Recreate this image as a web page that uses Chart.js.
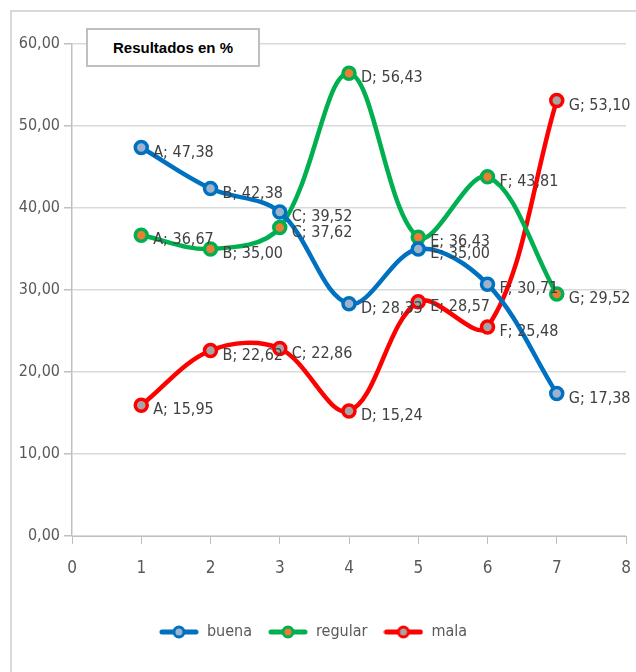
<!DOCTYPE html>
<html>
<head>
<meta charset="utf-8">
<script src="https://cdn.jsdelivr.net/npm/chart.js@4/dist/chart.umd.min.js"></script>
<style>
  body { margin: 0; background: #fff; }
  #wrap { position: relative; width: 636px; height: 672px; }
  #frame { position: absolute; left: 10px; top: 10px; right: 0; bottom: 0;
           border-left: 2px solid #d9d9d9; border-top: 2px solid #d9d9d9; }
  #titleBox { position: absolute; left: 86px; top: 28px; width: 170px; height: 35px;
              border: 2px solid #bfbfbf; background: #fff;
              font: bold 15px "Liberation Sans", Arial, sans-serif; color: #000;
              line-height: 35px; text-align: center; }
  canvas { position: absolute; left: 0; top: 0; }
</style>
</head>
<body>
<div id="wrap">
  <div id="frame"></div>
  <canvas id="chart" width="636" height="672"></canvas>
  <div id="titleBox">Resultados en %</div>
</div>
<script>
const categories = ['A', 'B', 'C', 'D', 'E', 'F', 'G'];
const xValues = [1, 2, 3, 4, 5, 6, 7];
const buena = [47.38, 42.38, 39.52, 28.33, 35.00, 30.71, 17.38];
const regular = [36.67, 35.00, 37.62, 56.43, 36.43, 43.81, 29.52];
const mala = [15.95, 22.62, 22.86, 15.24, 28.57, 25.48, 53.10];
const yTicks = [0, 10, 20, 30, 40, 50, 60];
const xTicks = [0, 1, 2, 3, 4, 5, 6, 7, 8];

const FONT = '"Liberation Sans Narrow", "DejaVu Sans Condensed", Arial, sans-serif';
const fmt = v => v.toFixed(2).replace('.', ',');

function points(values) {
  return values.map((v, i) => ({ x: xValues[i], y: v }));
}

// small legend icon: line with a ring marker
function legendIcon(color, fill) {
  const c = document.createElement('canvas');
  c.width = 40; c.height = 16;
  const g = c.getContext('2d');
  g.strokeStyle = color;
  g.lineWidth = 5;
  g.lineCap = 'round';
  g.beginPath(); g.moveTo(3, 8); g.lineTo(37, 8); g.stroke();
  g.beginPath(); g.arc(20, 8, 5, 0, Math.PI * 2);
  g.fillStyle = fill; g.fill();
  g.lineWidth = 3; g.stroke();
  return c;
}

const series = [
  { label: 'buena', data: buena, color: '#0070c0', fill: '#9db3cc' },
  { label: 'regular', data: regular, color: '#00b050', fill: '#ed7d31' },
  { label: 'mala', data: mala, color: '#ff0000', fill: '#a5a5a5' }
];

const dataLabels = {
  id: 'dataLabels',
  afterDatasetsDraw(chart) {
    const ctx = chart.ctx;
    ctx.save();
    ctx.font = '16px ' + FONT;
    ctx.fillStyle = '#404040';
    ctx.textAlign = 'left';
    ctx.textBaseline = 'middle';
    chart.data.datasets.forEach((ds, di) => {
      const meta = chart.getDatasetMeta(di);
      meta.data.forEach((pt, i) => {
        ctx.fillText(categories[i] + '; ' + fmt(series[di].data[i]), pt.x + 12, pt.y + 5);
      });
    });
    ctx.restore();
  }
};

new Chart(document.getElementById('chart'), {
  type: 'scatter',
  data: {
    datasets: series.map(s => ({
      label: s.label,
      data: points(s.data),
      showLine: true,
      borderColor: s.color,
      borderWidth: 4.5,
      tension: 0.35,
      pointRadius: 6,
      pointBorderWidth: 3.5,
      pointBackgroundColor: s.fill,
      pointBorderColor: s.color,
      pointStyle: 'circle',
      legendIcon: legendIcon(s.color, s.fill)
    }))
  },
  options: {
    responsive: false,
    animation: false,
    layout: { padding: { left: 0, right: 10, top: 44, bottom: 22 } },
    scales: {
      x: {
        type: 'linear',
        min: 0, max: 8,
        afterBuildTicks: s => { s.ticks = xTicks.map(v => ({ value: v })); },
        afterFit: s => { s.height = 72; s.paddingLeft = 0; s.paddingRight = 0; },
        ticks: { color: '#595959', font: { family: FONT, size: 17 }, padding: 14 },
        grid: { drawOnChartArea: false, drawTicks: true, tickLength: 8, color: '#bfbfbf', lineWidth: 1 },
        border: { color: '#bfbfbf', width: 1 }
      },
      y: {
        min: 0, max: 60,
        afterBuildTicks: s => { s.ticks = yTicks.map(v => ({ value: v })); },
        afterFit: s => { s.width = 72; s.paddingTop = 0; s.paddingBottom = 0; },
        ticks: { color: '#595959', font: { family: FONT, size: 16 }, padding: 4, callback: v => fmt(v) },
        grid: { color: '#d9d9d9', lineWidth: 1.5, tickLength: 8, tickColor: '#bfbfbf' },
        border: { color: '#bfbfbf', width: 1.5 }
      }
    },
    plugins: {
      legend: {
        position: 'bottom',
        labels: {
          usePointStyle: true,
          pointStyleWidth: 40,
          padding: 16,
          color: '#595959',
          font: { family: FONT, size: 16 },
          generateLabels: chart => chart.data.datasets.map((ds, i) => ({
            text: ds.label,
            pointStyle: ds.legendIcon,
            fontColor: '#595959',
            strokeStyle: ds.borderColor,
            fillStyle: ds.pointBackgroundColor,
            lineWidth: 0,
            datasetIndex: i,
            hidden: false
          }))
        }
      },
      tooltip: { enabled: false }
    }
  },
  plugins: [dataLabels]
});
</script>
</body>
</html>
